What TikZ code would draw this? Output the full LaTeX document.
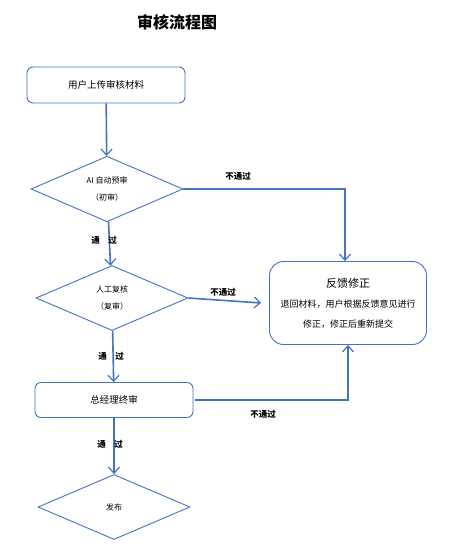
\documentclass[tikz,border=0pt]{standalone}
\usepackage{fontspec}
\newfontfamily\cjk{Noto Sans CJK SC}
\usetikzlibrary{shapes.geometric,arrows.meta}
\definecolor{flowblue}{RGB}{68,114,196}
\begin{document}
\begin{tikzpicture}[x=1pt, y=-1pt,
  box/.style={rectangle, draw=flowblue, line width=0.9pt, rounded corners=#1,
              font=\cjk\fontsize{9.5}{12}\selectfont, align=center},
  box/.default=6pt,
  check/.style={diamond, draw=flowblue, line width=0.9pt, inner sep=0pt,
                minimum width=152pt, minimum height=65pt,
                font=\cjk\fontsize{8}{17}\selectfont, align=center},
  arr/.style={-{Straight Barb[length=6pt, width=11pt, line width=1.2pt]},
              flowblue, line width=1.6pt},
  lbl/.style={font=\cjk\bfseries\fontsize{8.5}{10}\selectfont}
]
  \fill[white] (0,0) rectangle (457,551);
  \useasboundingbox (0,0) rectangle (457,551);

  \node[font=\cjk\bfseries\fontsize{16}{18}\selectfont] (title) at (177,22) {审核流程图};

  \node[box, minimum width=158pt, minimum height=36pt] (upload) at (106,85) {用户上传审核材料};
  \node[check] (ai) at (107,189) {AI 自动预审\\（初审）};
  \node[check] (manual) at (112,298) {人工复核\\（复审）};
  \node[box, minimum width=158pt, minimum height=35pt] (final) at (114,400) {总经理终审};
  \node[check] (publish) at (114,507) {发布};
  \node[box=14pt, minimum width=157pt, minimum height=83pt,
        font=\cjk\fontsize{9}{20}\selectfont] (fb) at (348,303)
        {{\fontsize{11}{12}\selectfont 反馈修正}\\退回材料，用户根据反馈意见进行\\修正，修正后重新提交};

  \draw[arr] (upload) -- (ai);
  \draw[arr] (ai.east) -| ([xshift=-3pt]fb.north);
  \draw[arr] (ai) -- (manual);
  \draw[arr] (manual.east) -- ([xshift=-8pt]fb.west);
  \draw[arr] (manual) -- (final);
  \draw[arr] ([xshift=2pt]final.east) -| (fb.south);
  \draw[arr] (final) -- (publish);

  % labels
  \node[lbl] (pass1) at (104,240) {通\quad 过};
  \node[lbl] (pass2) at (111,356) {通\quad 过};
  \node[lbl] (pass3) at (110,444) {通\quad 过};
  \node[lbl] (fail1) at (238,176) {不通过};
  \node[lbl] (fail2) at (223,292) {不通过};
  \node[lbl] (fail3) at (263,414) {不通过};
\end{tikzpicture}
\end{document}
